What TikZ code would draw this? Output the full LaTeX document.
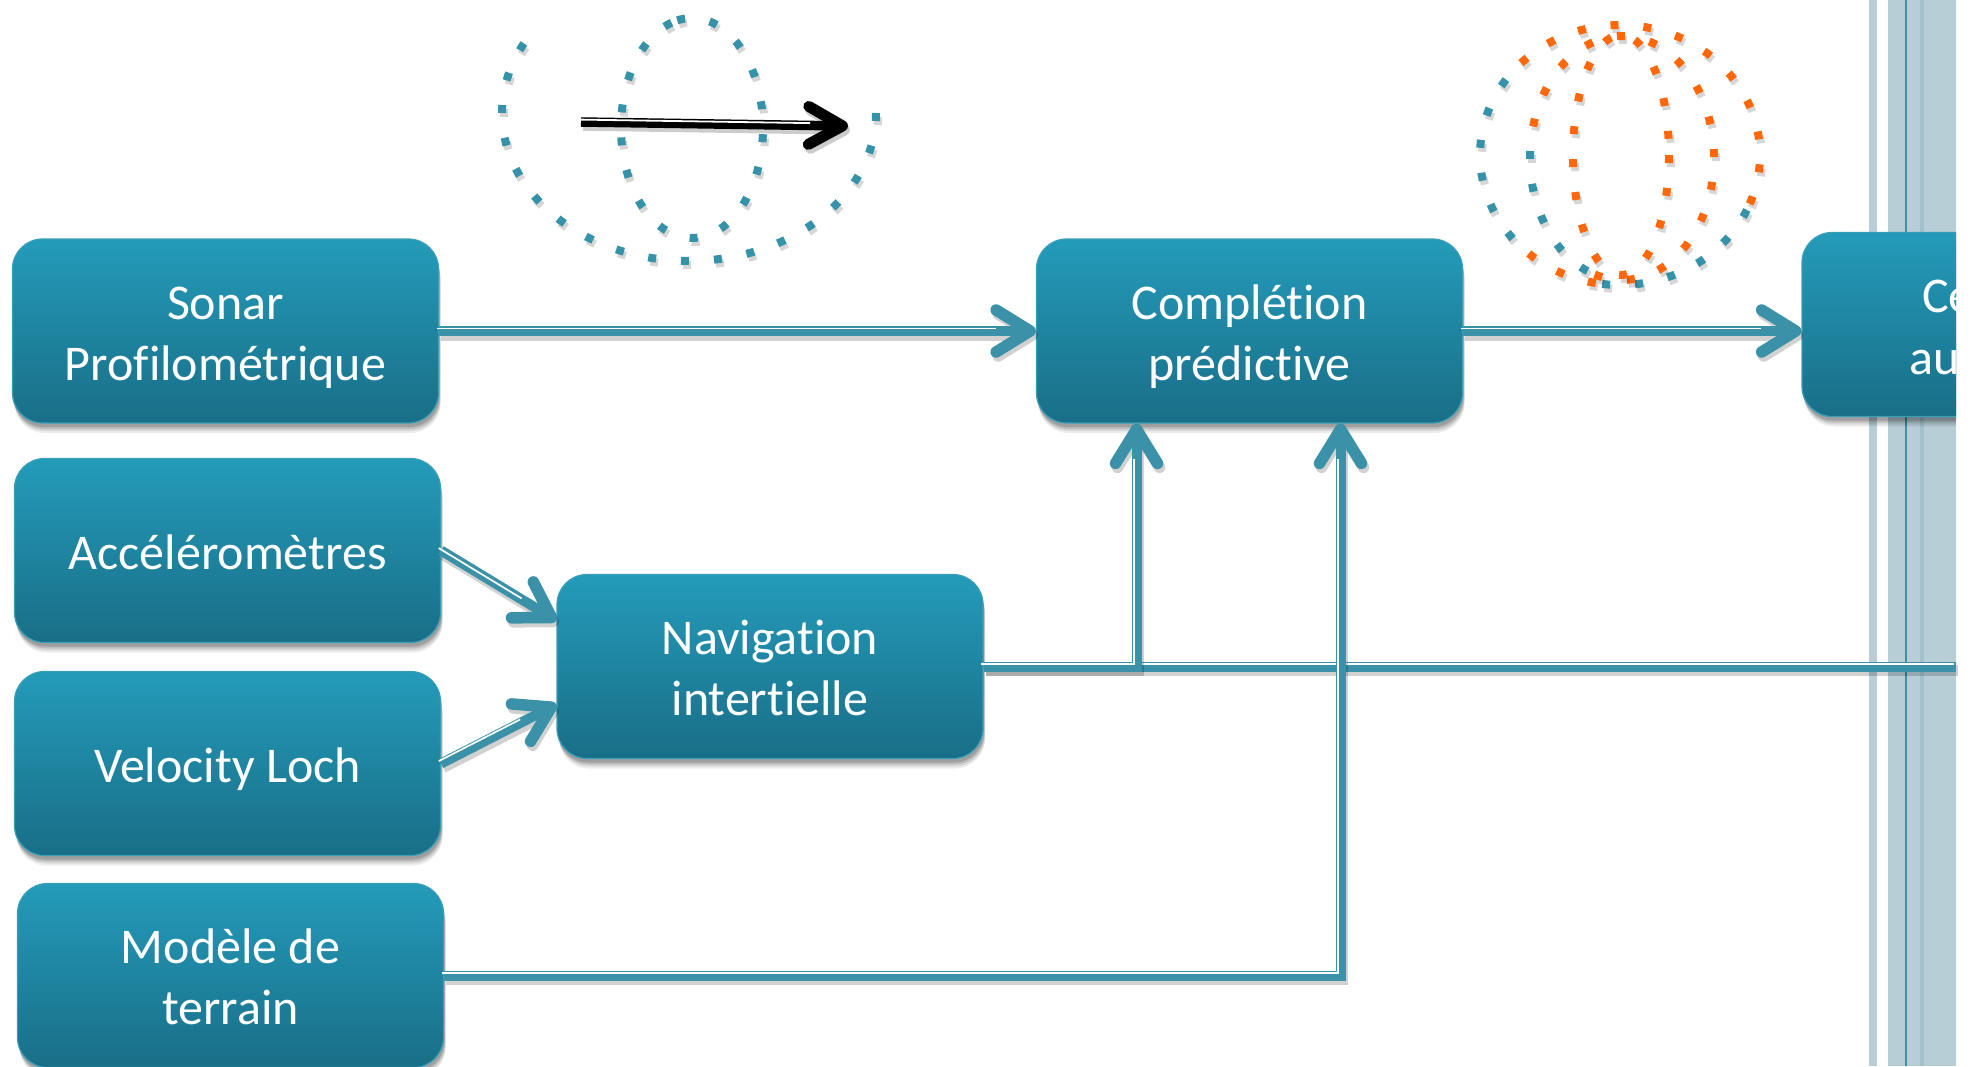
\documentclass[tikz,border=0pt]{standalone}
\usepackage{fontspec}
\setmainfont{Carlito}[Ligatures=CommonOff]
\usetikzlibrary{arrows.meta,shadows,calc}

\definecolor{boxtop}{RGB}{36,155,186}
\definecolor{boxbot}{RGB}{25,110,135}
\definecolor{boxedge}{RGB}{58,158,184}
\definecolor{link}{RGB}{58,145,168}
\definecolor{dotteal}{RGB}{54,146,168}
\definecolor{dotorange}{RGB}{255,104,10}
\definecolor{stripe}{RGB}{184,206,214}
\definecolor{stripedark}{RGB}{162,193,205}

\newcommand\tstrut{\rule[-10pt]{0pt}{57pt}}

\tikzset{
  softshadow/.style={
    general shadow={fill=black, opacity=.07, shadow xshift=2pt, shadow yshift=-10pt},
    general shadow={fill=black, opacity=.09, shadow xshift=2pt, shadow yshift=-8pt},
    general shadow={fill=black, opacity=.12, shadow xshift=1.5pt, shadow yshift=-6pt},
    general shadow={fill=black, opacity=.15, shadow xshift=1pt, shadow yshift=-4pt}},
  blockbox/.style={rectangle, rounded corners=30pt, minimum width=426pt,
    minimum height=184pt, inner sep=0pt, top color=boxtop, bottom color=boxbot,
    draw=boxedge, line width=1.2pt, text=white, align=center,
    font=\fontsize{50}{61}\selectfont, softshadow},
  boxlabel/.style={anchor=base west, inner sep=0pt, text=white,
    font=\fontsize{50}{61}\selectfont},
  tipped/.style={-{Straight Barb[length=34pt, width=42pt, line width=11.5pt 0, round]}},
  wmain/.style={draw=link, line width=10pt},
  wshade/.style={draw=black, opacity=.18, line width=11pt,
    transform canvas={shift={(2pt,-4pt)}}},
  whi/.style={draw=white, line width=1.7pt,
    transform canvas={shift={(-2.4pt,2.4pt)}}},
  dotbase/.style={line width=8pt, dash pattern=on 8pt off 25pt},
  dotshade/.style={draw=black, opacity=.16, line width=8pt,
    dash pattern=on 8pt off 25pt, transform canvas={shift={(2pt,-4pt)}}},
}

% connector with an open arrow tip, drawn as shadow, body and highlight
\newcommand\arrowlink[1]{%
  \draw[wshade,tipped] #1;
  \draw[wmain,tipped] #1;
  \draw[whi,shorten >=38pt] #1;}
% connector without tip
\newcommand\plainlink[1]{%
  \draw[wshade] #1;
  \draw[wmain] #1;
  \draw[whi] #1;}
% dotted elliptic arc: colour, centre x, centre y, radii, angle range
\newcommand\dotring[7]{%
  \draw[dotshade] plot[domain=#6:#7, samples=120, smooth]
    ({#2+#4*cos(\x)},{#3+#5*sin(\x)});
  \draw[dotbase, draw=#1] plot[domain=#6:#7, samples=120, smooth]
    ({#2+#4*cos(\x)},{#3+#5*sin(\x)});}

\begin{document}
\begin{tikzpicture}[x=1pt,y=-1pt]
\useasboundingbox (0,0) rectangle (1973,1066);

% page and vertical bands on the right edge
\fill[white] (0,0) rectangle (1973,1066);
\fill[stripe] (1869,0) rectangle (1877,1066);
\fill[stripe] (1888,0) rectangle (1956,1066);
\fill[stripedark] (1920,0) rectangle (1924,1066);
\fill[link] (1904.5,0) rectangle (1906.5,1066);

% blocks
\node[blockbox] (sonar) at (225.5,331) {\tstrut Sonar\\\tstrut Profilométrique};
\node[blockbox] (acc) at (227.5,550.5) {\tstrut Accéléromètres};
\node[blockbox] (vel) at (227.5,763.5) {\tstrut Velocity Loch};
\node[blockbox] (mod) at (230.5,975.5) {\tstrut Modèle de\\\tstrut terrain};
\node[blockbox] (nav) at (770,666.5) {\tstrut Navigation\\\tstrut intertielle};
\node[blockbox] (comp) at (1249.5,331) {\tstrut Complétion\\\tstrut prédictive};
\begin{scope}
  \clip (0,0) rectangle (1956,1066);
  \node[blockbox] (rbox) at (2015,324.5) {};
  \node[boxlabel] (rtop) at (1922,312) {Ce};
  \node[boxlabel] (rbot) at (1909,374) {au};
\end{scope}
\coordinate (navout) at (1956,666.5);

% connectors
\arrowlink{(sonar.east) -- (comp.west)}
\arrowlink{(acc.east) -- ([yshift=46pt]nav.west)}
\arrowlink{(vel.east) -- ([yshift=-38pt]nav.west)}
\arrowlink{(comp.east) -- (comp.east -| rbox.west)}
\plainlink{(nav.east) -- (navout)}
\arrowlink{(nav.east) -| ([xshift=-113pt]comp.south)}
\arrowlink{(mod.east) -| ([xshift=91pt]comp.south)}

% motion arrow with dotted loops, upper left
\draw[draw=black, opacity=.2, line width=9.5pt,
  -{Straight Barb[length=34pt, width=38pt, line width=11pt 0, round]},
  transform canvas={shift={(2pt,-4pt)}}] (581,122) -- (848,126);
\draw[draw=black, line width=9.5pt,
  -{Straight Barb[length=34pt, width=38pt, line width=11pt 0, round]}]
  (581,122) -- (848,126);
\draw[white, line width=1.8pt, transform canvas={shift={(0pt,2.4pt)}}]
  (581,122) -- (810,125.5);
\dotring{dotteal}{689}{113}{187}{148}{0}{216}
\dotring{dotteal}{692}{128}{71}{110}{258}{618}

% dotted loops, upper right
\dotring{dotorange}{1620}{155}{140}{130}{225}{385}
\dotring{dotteal}{1620}{155}{140}{130}{25}{100}
\dotring{dotorange}{1620}{155}{140}{130}{100}{140}
\dotring{dotteal}{1620}{155}{140}{130}{140}{225}
\dotring{dotteal}{1622}{158}{92}{122}{112}{195}
\dotring{dotorange}{1622}{158}{92}{122}{195}{472}
\dotring{dotorange}{1621}{155}{48}{120}{0}{360}
\end{tikzpicture}
\end{document}
